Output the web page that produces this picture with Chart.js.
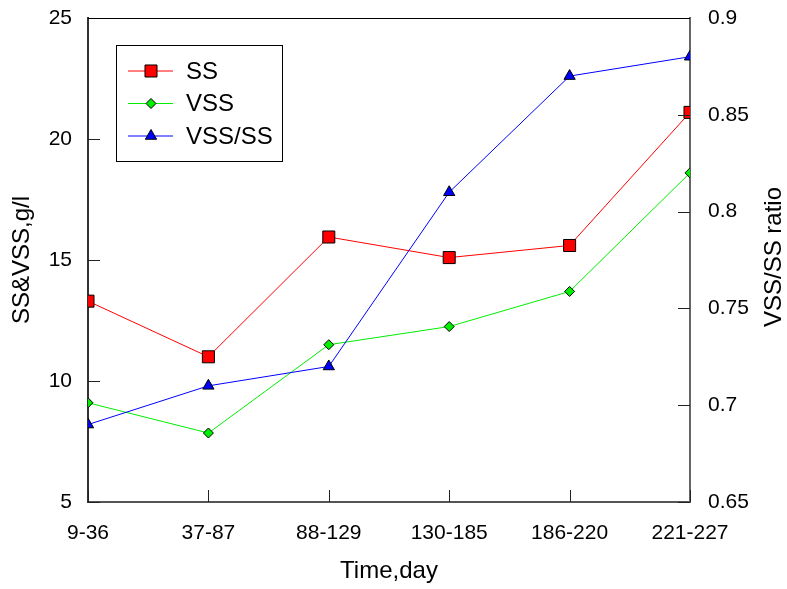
<!DOCTYPE html>
<html>
<head>
<meta charset="utf-8">
<script src="https://cdn.jsdelivr.net/npm/chart.js@4/dist/chart.umd.min.js"></script>
<style>
  html, body { margin: 0; padding: 0; background: #fff; }
  #wrap { width: 787px; height: 589px; }
</style>
</head>
<body>
<div id="wrap"><canvas id="chart" width="787" height="589"></canvas></div>
<script>
const periods = ['9-36', '37-87', '88-129', '130-185', '186-220', '221-227'];
const ss = [13.3, 11.0, 15.95, 15.1, 15.6, 21.1];
const vss = [9.1, 7.85, 11.5, 12.25, 13.7, 18.6];
const ratio = [0.69, 0.71, 0.72, 0.81, 0.87, 0.88];

const FONT = 'Liberation Sans, Arial, sans-serif';

// tick marks point into the plot, and the top edge is a thin black line
const frameTicks = {
  id: 'frameTicks',
  afterDatasetsDraw(chart) {
    const { ctx, chartArea: a, scales } = chart;
    ctx.save();
    ctx.strokeStyle = '#222';
    ctx.lineWidth = 1;
    ctx.beginPath();
    scales.y.ticks.forEach((t, i) => {
      const y = Math.round(scales.y.getPixelForTick(i)) + 0.5;
      ctx.moveTo(a.left, y); ctx.lineTo(a.left + 12, y);
    });
    scales.y2.ticks.forEach((t, i) => {
      const y = Math.round(scales.y2.getPixelForTick(i)) + 0.5;
      ctx.moveTo(a.right, y); ctx.lineTo(a.right - 12, y);
    });
    scales.x.ticks.forEach((t, i) => {
      const x = Math.round(scales.x.getPixelForTick(i)) + 0.5;
      ctx.moveTo(x, a.bottom); ctx.lineTo(x, a.bottom - 12);
    });
    ctx.stroke();
    ctx.strokeStyle = '#000';
    ctx.beginPath();
    ctx.moveTo(a.left, a.top + 0.5); ctx.lineTo(a.right, a.top + 0.5);
    ctx.stroke();

    // right axis title reads bottom to top, like the left one
    ctx.fillStyle = '#000';
    ctx.font = '24px ' + FONT;
    ctx.textAlign = 'center';
    ctx.textBaseline = 'middle';
    ctx.translate(774, (a.top + a.bottom) / 2 - 3);
    ctx.rotate(-Math.PI / 2);
    ctx.fillText('VSS/SS ratio', 0, 0);
    ctx.restore();
  }
};

// legend box inside the plot, top left
const boxLegend = {
  id: 'boxLegend',
  afterDraw(chart) {
    const { ctx } = chart;
    const x0 = 116, y0 = 45, w = 166, h = 116;
    ctx.save();
    ctx.fillStyle = '#fff';
    ctx.fillRect(x0, y0, w, h);
    ctx.strokeStyle = '#000';
    ctx.lineWidth = 1;
    ctx.strokeRect(x0 + 0.5, y0 + 0.5, w, h);
    ctx.font = '24px ' + FONT;
    ctx.textBaseline = 'middle';
    ctx.textAlign = 'left';
    chart.data.datasets.forEach((ds, i) => {
      const y = 71 + i * 32.5;
      ctx.strokeStyle = ds.borderColor;
      ctx.lineWidth = 1;
      ctx.beginPath();
      ctx.moveTo(128, y); ctx.lineTo(173, y);
      ctx.stroke();
      ctx.fillStyle = ds.pointBackgroundColor;
      ctx.strokeStyle = '#000';
      Chart.helpers.drawPoint(ctx, { pointStyle: ds.pointStyle, radius: ds.pointRadius, rotation: 0, borderWidth: 1 }, 151, y);
      ctx.fillStyle = '#000';
      ctx.fillText(ds.label, 186, y + 1);
    });
    ctx.restore();
  }
};

function fixV(w) {
  return s => { s.width = w; s.paddingTop = 0; s.paddingBottom = 0; };
}

new Chart(document.getElementById('chart'), {
  type: 'line',
  data: {
    labels: periods,
    datasets: [
      { label: 'SS', data: ss, yAxisID: 'y', borderColor: '#ff0000', pointBackgroundColor: '#ff0000',
        pointStyle: 'rect', pointRadius: 8.5, order: 3 },
      { label: 'VSS', data: vss, yAxisID: 'y', borderColor: '#00ee00', pointBackgroundColor: '#00ee00',
        pointStyle: 'rectRot', pointRadius: 5, order: 2 },
      { label: 'VSS/SS', data: ratio, yAxisID: 'y2', borderColor: '#0000ff', pointBackgroundColor: '#0000ff',
        pointStyle: 'triangle', pointRadius: 6.5, order: 1 }
    ].map(d => Object.assign(d, { borderWidth: 1, pointBorderColor: '#000', pointBorderWidth: 1, tension: 0, clip: 0 }))
  },
  options: {
    responsive: false,
    animation: false,
    layout: { padding: { top: 18, left: 0, right: 0, bottom: 0 } },
    plugins: { legend: { display: false }, tooltip: { enabled: false } },
    scales: {
      x: {
        type: 'category',
        offset: false,
        border: { color: '#555', width: 2 },
        grid: { display: false, drawTicks: false },
        ticks: { color: '#000', font: { family: FONT, size: 21 }, padding: 19, maxRotation: 0, autoSkip: false },
        title: { display: true, text: 'Time,day', color: '#000', font: { family: FONT, size: 24 }, padding: { top: 0, bottom: 3 } },
        afterFit(s) { s.height = 87; s.paddingLeft = 0; s.paddingRight = 0; }
      },
      y: {
        position: 'left',
        min: 5, max: 25,
        border: { color: '#333', width: 2 },
        grid: { display: false, drawTicks: false },
        ticks: { stepSize: 5, color: '#000', font: { family: FONT, size: 21 }, padding: 16 },
        title: { display: true, text: 'SS&VSS,g/l', color: '#000', font: { family: FONT, size: 24 }, padding: { top: 8, bottom: 0 } },
        afterFit: fixV(88)
      },
      y2: {
        position: 'right',
        min: 0.65, max: 0.9,
        border: { color: '#666', width: 2 },
        grid: { display: false, drawTicks: false },
        ticks: { stepSize: 0.05, color: '#000', font: { family: FONT, size: 21 }, padding: 18,
          callback: v => String(+v.toFixed(2)) },
        afterFit: fixV(97)
      }
    }
  },
  plugins: [frameTicks, boxLegend]
});
</script>
</body>
</html>
